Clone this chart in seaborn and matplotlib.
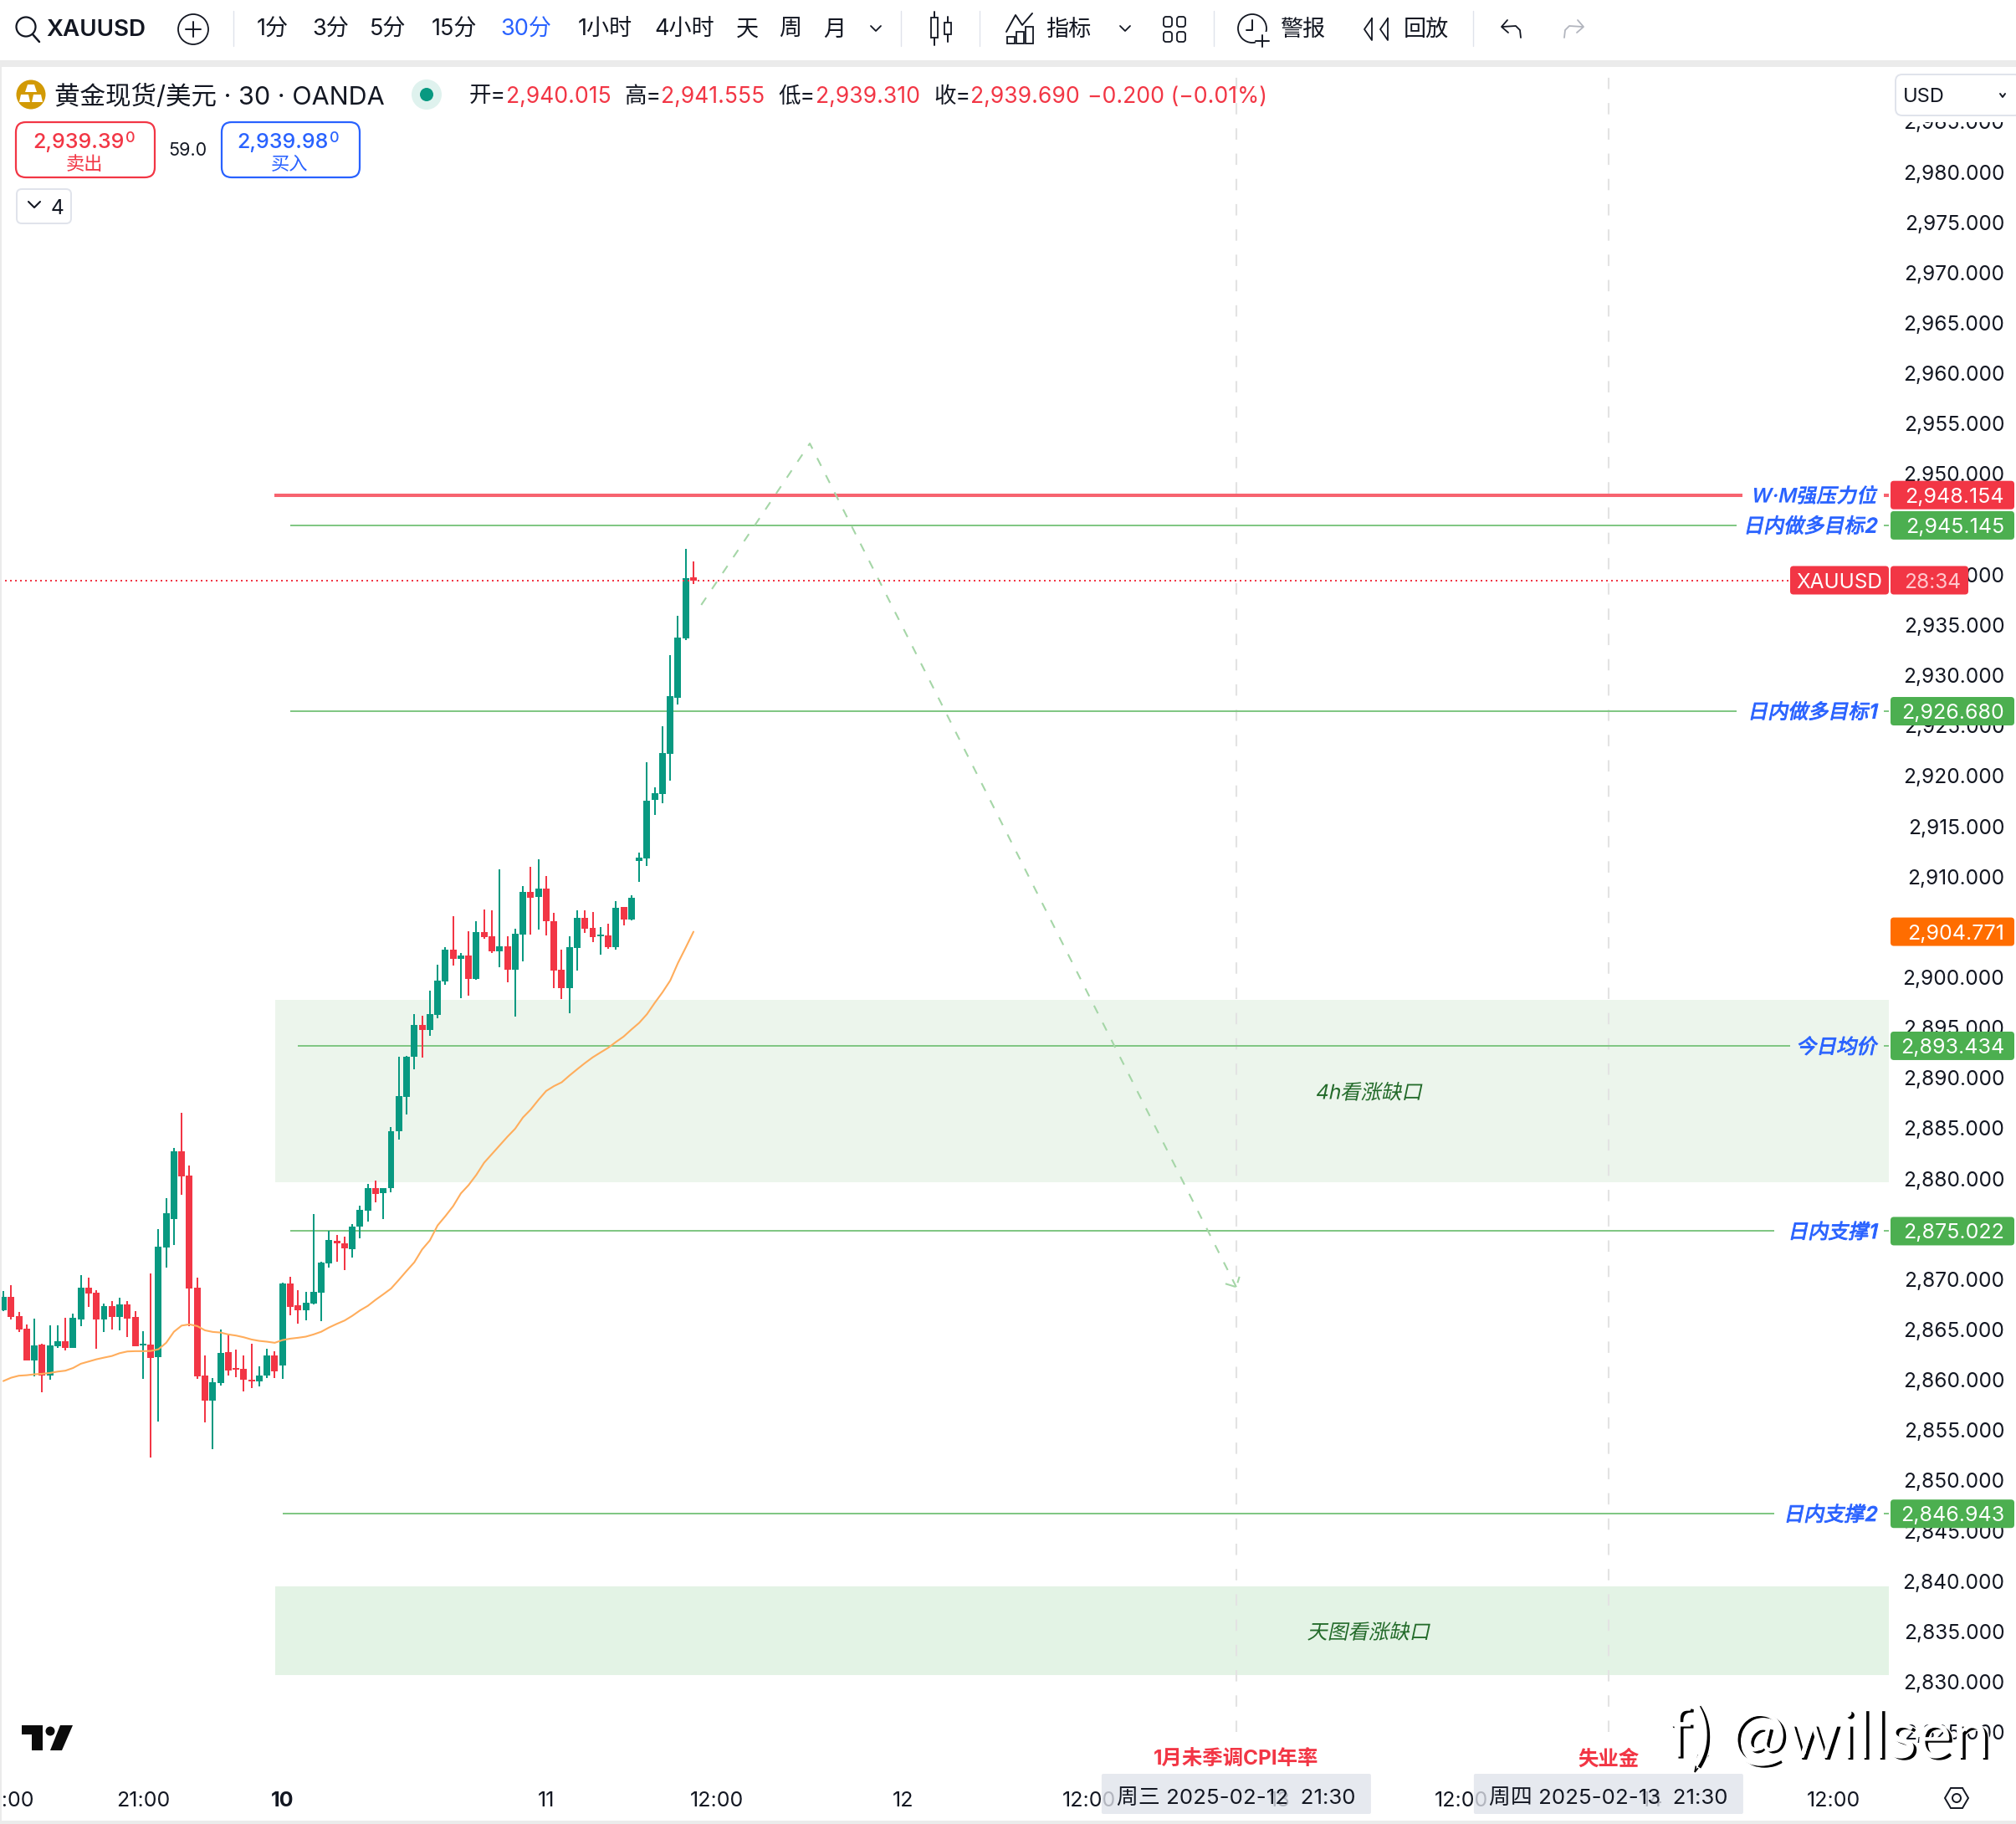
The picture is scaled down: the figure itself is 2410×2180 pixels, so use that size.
import matplotlib
matplotlib.use("Agg")
import matplotlib.pyplot as plt
import matplotlib.patheffects as pe
from matplotlib.patches import Circle, FancyBboxPatch, Polygon, Rectangle
from matplotlib.transforms import Affine2D
import seaborn as sns
import pandas as pd

bar_dirs = "GRRRGRGGRGGRRGRGRRGRGGGRRRRGGRRRRGGRGRRGGGGRRGGGRGGGGGRGGGRGRGRRGRGGRGRRRGGRRGRGRGGGGGGGGR"
bar_high = [2869.08, 2869.66, 2867.00, 2865.76, 2866.34, 2863.84, 2865.67, 2865.67, 2866.42, 2866.84,
            2870.66, 2870.41, 2869.16, 2867.83, 2868.08, 2868.42, 2868.08, 2867.09, 2865.09, 2870.83,
            2875.23, 2878.31, 2883.29, 2886.79, 2881.55, 2870.41, 2862.68, 2860.44, 2865.26, 2864.76,
            2863.26, 2862.68, 2863.84, 2861.60, 2863.34, 2863.10, 2869.91, 2870.49, 2869.16, 2869.00,
            2876.73, 2871.99, 2875.07, 2874.65, 2874.48, 2875.69, 2877.53, 2879.69, 2880.04, 2879.31,
            2885.35, 2892.35, 2892.45, 2896.58, 2896.42, 2898.90, 2901.48, 2903.23, 2906.32, 2902.66,
            2904.82, 2905.81, 2906.98, 2906.89, 2910.96, 2904.31, 2905.07, 2909.31, 2911.21, 2911.98,
            2910.32, 2906.67, 2903.01, 2904.31, 2906.89, 2906.89, 2906.73, 2905.23, 2905.58, 2907.81,
            2907.24, 2908.38, 2912.63, 2921.61, 2919.12, 2925.18, 2932.25, 2936.16, 2942.81, 2941.555]
bar_top = [2868.50, 2868.50, 2866.59, 2865.34, 2863.68, 2863.76, 2863.68, 2864.09, 2864.09, 2866.42,
           2869.41, 2869.41, 2868.91, 2867.58, 2867.58, 2867.75, 2867.75, 2866.50, 2863.84, 2863.76,
           2873.49, 2876.81, 2882.96, 2882.96, 2880.55, 2869.41, 2860.68, 2860.02, 2862.93, 2863.01,
           2861.43, 2861.35, 2860.27, 2860.68, 2862.68, 2862.68, 2869.83, 2869.83, 2867.67, 2867.92,
           2869.00, 2871.91, 2874.15, 2874.07, 2873.82, 2875.49, 2877.15, 2879.31, 2879.31, 2879.31,
           2884.94, 2888.44, 2892.35, 2895.50, 2895.50, 2896.58, 2899.92, 2903.01, 2903.01, 2902.40,
           2902.40, 2904.72, 2904.72, 2904.31, 2903.33, 2903.33, 2904.57, 2908.73, 2908.73, 2909.05,
           2909.05, 2905.81, 2901.00, 2903.23, 2906.16, 2906.16, 2905.14, 2904.50, 2904.41, 2907.14,
           2907.24, 2908.16, 2912.13, 2917.79, 2918.53, 2922.52, 2928.18, 2934.00, 2939.90, 2940.015]
bar_bot = [2867.17, 2866.50, 2865.26, 2862.18, 2862.18, 2860.68, 2860.68, 2863.59, 2863.43, 2863.43,
           2866.25, 2868.83, 2866.25, 2866.25, 2866.50, 2866.50, 2866.34, 2863.59, 2863.68, 2862.43,
           2862.51, 2873.40, 2876.23, 2880.47, 2869.33, 2860.60, 2858.19, 2858.19, 2859.94, 2861.18,
           2861.27, 2860.27, 2860.10, 2860.10, 2860.68, 2861.10, 2861.68, 2867.50, 2867.17, 2867.17,
           2867.83, 2868.91, 2871.82, 2873.82, 2873.32, 2873.24, 2875.49, 2877.05, 2878.71, 2878.80,
           2879.31, 2884.94, 2888.38, 2892.35, 2895.02, 2895.02, 2896.52, 2899.83, 2902.09, 2902.09,
           2900.08, 2900.08, 2904.25, 2902.82, 2902.82, 2901.00, 2901.00, 2904.50, 2908.16, 2908.22,
           2905.81, 2900.91, 2899.16, 2899.16, 2903.17, 2905.07, 2904.25, 2904.31, 2903.23, 2903.23,
           2906.00, 2906.00, 2911.80, 2912.05, 2917.87, 2918.45, 2922.44, 2928.01, 2933.91, 2939.69]
bar_low = [2867.09, 2866.25, 2865.01, 2862.18, 2860.60, 2859.02, 2860.27, 2863.43, 2863.18, 2863.43,
           2865.59, 2867.50, 2863.34, 2865.01, 2865.26, 2865.17, 2864.51, 2863.59, 2860.35, 2852.54,
           2856.11, 2871.41, 2873.65, 2878.64, 2865.59, 2860.35, 2856.03, 2853.37, 2859.69, 2860.68,
           2860.52, 2859.11, 2859.44, 2859.60, 2860.44, 2860.44, 2860.35, 2866.67, 2865.84, 2866.17,
           2867.75, 2866.09, 2871.41, 2871.99, 2871.16, 2872.41, 2874.32, 2875.97, 2877.88, 2876.23,
           2878.90, 2884.11, 2886.63, 2891.11, 2892.26, 2894.42, 2896.17, 2899.51, 2901.42, 2898.17,
           2898.43, 2899.99, 2904.09, 2902.66, 2901.26, 2899.76, 2896.33, 2901.83, 2904.50, 2904.98,
           2904.41, 2899.16, 2898.08, 2896.68, 2900.91, 2904.66, 2903.74, 2902.50, 2903.07, 2903.01,
           2905.39, 2905.90, 2909.72, 2911.30, 2916.37, 2917.54, 2919.78, 2927.35, 2933.75, 2939.31]
ma_line = [2860.13, 2860.46, 2860.66, 2860.71, 2860.80, 2860.85, 2860.93, 2861.07, 2861.16, 2861.43,
           2861.85, 2862.07, 2862.29, 2862.46, 2862.62, 2862.90, 2863.07, 2863.10, 2863.10, 2863.12,
           2863.29, 2863.93, 2865.03, 2865.64, 2865.76, 2865.59, 2865.17, 2865.01, 2864.95, 2864.76,
           2864.65, 2864.48, 2864.26, 2864.12, 2864.04, 2863.93, 2864.20, 2864.34, 2864.43, 2864.54,
           2864.76, 2865.03, 2865.45, 2865.81, 2866.14, 2866.61, 2867.15, 2867.60, 2868.20, 2868.75,
           2869.32, 2870.18, 2871.07, 2871.93, 2873.20, 2874.10, 2875.59, 2876.51, 2877.50, 2878.77,
           2879.60, 2880.62, 2881.82, 2882.68, 2883.54, 2884.40, 2885.20, 2886.31, 2887.10, 2888.06,
           2888.95, 2889.43, 2889.81, 2890.48, 2891.11, 2891.72, 2892.29, 2892.77, 2893.24, 2893.82,
           2894.36, 2895.06, 2895.72, 2896.58, 2897.70, 2898.75, 2899.92, 2901.67, 2903.20, 2904.771]

level_prices = [2948.154, 2945.145, 2926.680, 2893.434, 2875.022, 2846.943]
level_names = ["W·M强压力位", "日内做多目标2", "日内做多目标1", "今日均价", "日内支撑1", "日内支撑2"]
level_start = [35, 37, 37, 38, 37, 36]
level_end = [224.3, 223.5, 223.5, 230.4, 228.4, 228.4]

zone_low = [2879.9, 2830.91]
zone_high = [2898.0, 2839.73]
zone_names = ["4h看涨缺口", "天图看涨缺口"]

path_x = [90, 104, 159.0]
path_y = [2937.24, 2953.28, 2869.47]
head_x = [157.6, 159.0, 159.4]
head_y = [2869.8, 2869.47, 2870.5]

price_ticks = list(range(2825, 2990, 5))
time_ticks = [0.5, 18, 36, 70, 92, 116, 140, 164.6, 188, 212.6, 236]
time_labels = ["18:00", "21:00", "10", "11", "12:00", "12", "12:00", "13", "12:00", "14", "12:00"]
event_bars = [159, 207]
event_names = ["1月未季调CPI年率", "失业金"]
event_stamps = ["周三 2025-02-12  21:30", "周四 2025-02-13  21:30"]

last_close = 2939.69
ma_last = 2904.771

INK = "#131722"
RED = "#F23645"
UP = "#089981"
BLUE = "#2962FF"
W, H = 2410, 2180

sns.set_theme(style="white")
plt.rcParams["font.family"] = ["Inter", "Noto Sans CJK SC", "DejaVu Sans"]
plt.rcParams["axes.unicode_minus"] = False


class Skew(pe.AbstractPathEffect):
    # no italic CJK font here, so lean the glyphs, and thicken them a bit if asked
    def __init__(self, deg=12, stroke=0.0):
        super().__init__()
        self.deg = deg
        self.stroke = stroke

    def draw_path(self, renderer, gc, tpath, affine, rgbFace=None):
        x0, y0 = affine.to_values()[4:]
        lean = Affine2D().translate(-x0, -y0).skew_deg(self.deg, 0).translate(x0, y0)
        gc0 = renderer.new_gc()
        gc0.copy_properties(gc)
        if self.stroke:
            gc0.set_linewidth(self.stroke)
            gc0.set_foreground(rgbFace)
        renderer.draw_path(gc0, tpath, affine + lean, rgbFace)
        gc0.restore()


fig = plt.figure(figsize=(W / 100, H / 100), dpi=100, facecolor="white")
# chart pane runs from 0 to 2258 across and 80 to 2110 down
ax = fig.add_axes([0, 1 - 2110 / H, 2258 / W, (2110 - 80) / H])
ax.set_xlim(-0.43, 243.15)
ax.set_ylim(2821.94, 2990.69)
sns.despine(ax=ax, left=True, bottom=True)
ax.set_yticks(price_ticks)
ax.set_yticklabels([f"{p:,.3f}" for p in price_ticks], ha="right", va="center")
ax.yaxis.tick_right()
ax.tick_params(axis="y", length=0, pad=99.6, labelsize=17.6, labelcolor=INK)
for tick in ax.yaxis.get_major_ticks():
    tick.label2.set_transform(tick.label2.get_transform() + Affine2D().translate(0, 0.5))
ax.set_xticks(time_ticks)
ax.set_xticklabels(time_labels)
ax.tick_params(axis="x", length=0, pad=22, labelsize=18, labelcolor=INK)
ax.get_xticklabels()[2].set_fontweight("bold")
for tl in ax.get_xticklabels():
    tl.set_clip_on(False)

for lo, hi, col in zip(zone_low, zone_high, ["#ECF5EC", "#E3F3E5"]):
    ax.fill_between([35.06, 243.15], lo, hi, color=col, lw=0, zorder=1)
for n, lo, hi in zip(zone_names, zone_low, zone_high):
    ax.text(176, (lo + hi) / 2 - 0.25, n, color="#236B2A", fontsize=17.6, ha="center", va="center",
            path_effects=[Skew()], zorder=6)

for b in event_bars:
    ax.vlines(b, 2825.3, 2990.69, color="#E3E3E3", lw=1.5, linestyles=(0, (6.5, 8)), zorder=1.5)

colors = [UP if d == "G" else RED for d in bar_dirs]
idx = list(range(len(bar_high)))
ax.vlines(idx, bar_low, bar_high, colors=colors, lw=1.44, zorder=3)
ax.bar(idx, [t - b for t, b in zip(bar_top, bar_bot)], bottom=bar_bot, width=0.86, color=colors, lw=0, zorder=3)

df_ma = pd.DataFrame({"bar": idx, "ma": ma_line})
sns.lineplot(data=df_ma, x="bar", y="ma", ax=ax, color="#FFAD5C", lw=1.5, zorder=4)
df_path = pd.DataFrame({"bar": path_x, "price": path_y})
sns.lineplot(data=df_path, x="bar", y="price", ax=ax, sort=False, color="#A5D6A7", lw=1.5, zorder=4,
             linestyle=(0, (5, 6)))
df_head = pd.DataFrame({"bar": head_x, "price": head_y})
sns.lineplot(data=df_head, x="bar", y="price", ax=ax, sort=False, estimator=None, color="#A5D6A7", lw=1.5, zorder=4,
             linestyle=(0, (6, 3)))
ax.set_xlabel("")
ax.set_ylabel("")

ax.hlines(last_close, -0.43, 230.4, color=RED, lw=1.44, linestyles=(0, (1, 2)), zorder=5)

for i, p in enumerate(level_prices):
    col = "#F7636F" if i == 0 else "#81C784"
    lw = 2.9 if i == 0 else 1.44
    ax.hlines(p, level_start[i], level_end[i], color=col, lw=lw, zorder=2)
    ax.hlines(p, 242.5, 243.15, color=col, lw=lw, zorder=2)

# overlay in image pixels for the trading view chrome
ov = fig.add_axes([0, 0, 1, 1], facecolor="none")
ov.set_xlim(0, W)
ov.set_ylim(H, 0)
ov.axis("off")
ov.set_zorder(5)


def py(price):
    return H - ax.transData.transform((0, price))[1]


def bx(x, y):
    return ax.transData.transform((x, y))


def txt(x, y, s, size=17.6, color=INK, ha="left", va="center", **kw):
    return ov.text(x, y, s, fontsize=size, color=color, ha=ha, va=va, **kw)


def box(x0, y0, x1, y1, fc="white", ec="none", r=6, lw=0, **kw):
    p = FancyBboxPatch((x0, y0), x1 - x0, y1 - y0, boxstyle=f"round,pad=0,rounding_size={r}",
                       fc=fc, ec=ec, lw=lw, **kw)
    ov.add_patch(p)
    return p


def seg(xs, ys, color=INK, lw=1.4):
    ov.plot(xs, ys, color=color, lw=lw, solid_capstyle="round")


# frame bands
ov.add_patch(Rectangle((0, 72), W, 8, fc="#EBEBEB", lw=0))
ov.add_patch(Rectangle((0, 2176), W, 4, fc="#EBEBEB", lw=0))
ov.add_patch(Rectangle((0, 72), 2, 2108, fc="#EBEBEB", lw=0))

# toolbar
ov.add_patch(Circle((31, 32), 11.5, fc="none", ec=INK, lw=1.6))
seg([39, 47], [41, 50], lw=1.8)
txt(55, 36, "XAUUSD", size=20, fontweight="semibold")
ov.add_patch(Circle((231, 35), 18, fc="none", ec=INK, lw=1.3))
seg([231, 231], [26, 44])
seg([222, 240], [35, 35])
for sx in [279, 1077, 1171, 1451, 1761]:
    seg([sx, sx], [13, 55], color="#E0E3EB", lw=1)
tf_labels = ["1分", "3分", "5分", "15分", "30分", "1小时", "4小时", "天", "周", "月"]
tf_x = [326, 395, 464, 543, 629, 723, 818, 893, 945, 998]
for s, x in zip(tf_labels, tf_x):
    txt(x, 36, s, size=19.5, ha="center", color=BLUE if s == "30分" else INK)
for cx in [1047, 1345]:
    seg([cx - 6, cx, cx + 6], [31, 37, 31], lw=1.3)
# candle icon
seg([1117, 1117], [14, 54])
ov.add_patch(Rectangle((1113, 21), 8, 24, fc="white", ec=INK, lw=1.3, zorder=3))
seg([1133, 1133], [20, 50])
ov.add_patch(Rectangle((1129, 27), 8, 14, fc="white", ec=INK, lw=1.3, zorder=3))
# indicator icon
seg([1203, 1214, 1222, 1234], [38, 18, 30, 16])
for bxx, byy in zip([1204, 1215, 1226], [44, 38, 32]):
    ov.add_patch(Rectangle((bxx, byy), 9, 52 - byy, fc="none", ec=INK, lw=1.3))
txt(1277, 36, "指标", size=19.5, ha="center")
for gx in [1396, 1412]:
    for gy in [26, 44]:
        ov.add_patch(FancyBboxPatch((gx - 5, gy - 6), 10, 12, boxstyle="round,pad=0,rounding_size=3", fc="none", ec=INK, lw=1.3))
# alarm icon
ov.add_patch(Circle((1497, 34), 17, fc="none", ec=INK, lw=1.3))
ov.add_patch(Rectangle((1501, 38), 16, 20, fc="white", lw=0, zorder=3))
ov.plot([1497, 1497, 1490], [24, 36, 36], color=INK, lw=1.4, zorder=4)
ov.plot([1509, 1509], [42, 56], color=INK, lw=1.4, zorder=4)
ov.plot([1501, 1517], [49, 49], color=INK, lw=1.4, zorder=4)
txt(1557, 36, "警报", size=19.5, ha="center")
seg([1640, 1631, 1640, 1640], [22, 35, 48, 22], lw=1.3)
seg([1659, 1650, 1659, 1659], [22, 35, 48, 22], lw=1.3)
txt(1705, 36, "回放", size=19.5, ha="center")
seg([1802, 1795, 1803], [24, 32, 39], lw=1.3)
seg([1796, 1812, 1817, 1818], [32, 31, 36, 45], lw=1.3)
seg([1886, 1893, 1885], [24, 32, 39], color="#B2B5BE", lw=1.3)
seg([1892, 1876, 1871, 1870], [32, 31, 36, 45], color="#B2B5BE", lw=1.3)

# legend row
ov.add_patch(Circle((37, 113), 17.5, fc="#D29A05", lw=0))
ov.add_patch(Polygon([(33, 101), (41, 101), (44, 110), (30, 110)], fc="white", lw=0))
ov.add_patch(Polygon([(25, 113), (34, 113), (36, 122), (23, 122)], fc="white", lw=0))
ov.add_patch(Polygon([(40, 113), (49, 113), (51, 122), (38, 122)], fc="white", lw=0))
txt(65, 116, "黄金现货/美元 · 30 · OANDA", size=22)
ov.add_patch(Circle((510, 113), 18, fc="#DFF2EE", lw=0))
ov.add_patch(Circle((510, 113), 8, fc=UP, lw=0))
ohlc_x = [561, 605, 746, 790, 930, 975, 1116, 1160, 1300]
ohlc_s = ["开=", "2,940.015", "高=", "2,941.555", "低=", "2,939.310", "收=", "2,939.690", "−0.200 (−0.01%)"]
ohlc_c = [INK, RED, INK, RED, INK, RED, INK, RED, RED]
for x, s, c in zip(ohlc_x, ohlc_s, ohlc_c):
    txt(x, 116, s, size=19.1, color=c)

# buy and sell
box(19, 146, 185, 212, ec=RED, r=12, lw=1.6)
box(265, 146, 430, 212, ec=BLUE, r=12, lw=1.6)
txt(149, 170, "2,939.39", size=18, color=RED, ha="right", fontweight="medium")
txt(150, 165, "0", size=13, color=RED, fontweight="medium")
txt(101, 197, "卖出", size=16, color=RED, ha="center")
txt(224.5, 180, "59.0", size=15.5, ha="center")
txt(393, 170, "2,939.98", size=18, color=BLUE, ha="right", fontweight="medium")
txt(394, 165, "0", size=13, color=BLUE, fontweight="medium")
txt(346, 197, "买入", size=16, color=BLUE, ha="center")
box(20, 226, 85, 267, ec="#E0E3EB", r=6, lw=1.4)
seg([34, 41, 48], [241, 248, 241], lw=1.5)
txt(68, 249, "4", size=17.6, ha="center")

# covers the half hidden top tick, then the currency selector
ov.add_patch(Rectangle((2262, 80), 148, 66, fc="white", lw=0))
box(2266, 89, 2416, 138, ec="#E0E3EB", r=8, lw=1.4)
txt(2275, 116, "USD", size=17)
seg([2391, 2394, 2397], [112, 116, 112], lw=1.4)

# price badges
for i, (p, n) in enumerate(zip(level_prices, level_names)):
    y = py(p)
    box(2260, y - 17, 2408, y + 17, fc=RED if i == 0 else "#4CAF50", r=4)
    txt(2396, y, f"{p:,.3f}", size=18, color="white", ha="right", va="center_baseline")
    t = txt(2243, y, n, size=17.3, color=BLUE, ha="right", va="center_baseline",
            fontweight="semibold" if i == 0 else "medium")
    t.set_path_effects([Skew(stroke=0 if i == 0 else 0.7)])
y = py(ma_last)
box(2260, y - 17, 2408, y + 17, fc="#FF6D00", r=4)
txt(2396, y, f"{ma_last:,.3f}", size=18, color="white", ha="right", va="center_baseline")
y = py(last_close)
box(2140, y - 17, 2258, y + 17, fc=RED, r=4)
box(2260, y - 17, 2353, y + 17, fc=RED, r=4)
txt(2199, y, "XAUUSD", color="white", ha="center", va="center_baseline")
txt(2310, y, "28:34", color="#FFC9CE", ha="center", va="center_baseline")

# logo
ov.add_patch(Rectangle((26, 2062), 25, 11, fc="#0B0B0B", lw=0))
ov.add_patch(Rectangle((38, 2062), 13, 30, fc="#0B0B0B", lw=0))
ov.add_patch(Circle((60, 2069), 5.5, fc="#0B0B0B", lw=0))
ov.add_patch(Polygon([(72, 2062), (87, 2062), (74, 2092), (60, 2092)], fc="#0B0B0B", lw=0))

# events and cursor stamps
for b, n, s in zip(event_bars, event_names, event_stamps):
    cx = bx(b, 2900)[0]
    txt(cx, 2103, n, size=17.6, color=RED, ha="center", fontweight="bold")
    box(cx - 161, 2120, cx + 161, 2168, fc="#E0E3EB", r=2, alpha=0.78)
    txt(cx, 2150, s, size=18.6, ha="center")

# settings hexagon
ov.add_patch(Polygon([(2325, 2149), (2332, 2137), (2346, 2137), (2353, 2149), (2346, 2161), (2332, 2161)],
                     fc="none", ec=INK, lw=1.4))
ov.add_patch(Circle((2339, 2149), 5, fc="none", ec=INK, lw=1.4))

# watermark
mark = [pe.PathPatchEffect(offset=(3, -2), facecolor="black"), pe.Normal()]
txt(2068, 2078, "@willsen", size=58, color="white", fontfamily="Lato", path_effects=mark)
txt(1993, 2076, "f)", size=60, color="white", fontfamily="Lato", path_effects=mark)
ov.add_patch(Polygon([(2030, 2098), (2042, 2098), (2026, 2118)], fc="white", ec="black", lw=1.2))

fig.savefig("out.png", dpi=100)
